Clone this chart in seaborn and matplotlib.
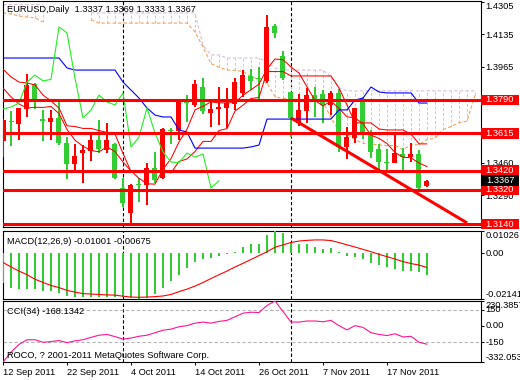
import numpy as np
import matplotlib
matplotlib.use("Agg")
import matplotlib.pyplot as plt
from matplotlib.patches import Rectangle
from matplotlib.transforms import blended_transform_factory
import seaborn as sns

nan = np.nan

# daily candles, 12 Sep 2011 .. 24 Nov 2011
opens = [1.3575, 1.3680, 1.3664, 1.3743, 1.3874, 1.3690, 1.3675, 1.3696, 1.3565, 1.3455,
         1.3512, 1.3523, 1.3580, 1.3528, 1.3559, 1.3329, 1.3198, 1.3350, 1.3345, 1.3434,
         1.3381, 1.3630, 1.3628, 1.3777, 1.3764, 1.3858, 1.3722, 1.3743, 1.3748, 1.3769,
         1.3827, 1.3916, 1.3902, 1.3890, 1.4178, 1.4021, 1.3832, 1.3669, 1.3732, 1.3816,
         1.3821, 1.3764, 1.3827, 1.3544, 1.3591, 1.3795, 1.3617, 1.3533, 1.3467, 1.3460,
         1.3507, 1.3491, 1.3507, 1.3337]
highs = [1.3690, 1.3732, 1.3750, 1.3926, 1.3879, 1.3738, 1.3738, 1.3790, 1.3596, 1.3559,
         1.3554, 1.3612, 1.3685, 1.3669, 1.3565, 1.3381, 1.3350, 1.3381, 1.3460, 1.3518,
         1.3643, 1.3643, 1.3790, 1.3816, 1.3895, 1.3905, 1.3790, 1.3858, 1.3853, 1.3905,
         1.3947, 1.3952, 1.3963, 1.4235, 1.4188, 1.4047, 1.3832, 1.3821, 1.3853, 1.3858,
         1.3842, 1.3837, 1.3848, 1.3649, 1.3750, 1.3806, 1.3633, 1.3559, 1.3533, 1.3607,
         1.3538, 1.3565, 1.3528, 1.3369]
lows = [1.3491, 1.3549, 1.3580, 1.3701, 1.3743, 1.3575, 1.3580, 1.3554, 1.3376, 1.3423,
        1.3355, 1.3470, 1.3512, 1.3512, 1.3376, 1.3229, 1.3146, 1.3256, 1.3240, 1.3355,
        1.3375, 1.3559, 1.3580, 1.3675, 1.3753, 1.3717, 1.3649, 1.3659, 1.3643, 1.3738,
        1.3806, 1.3842, 1.3790, 1.3879, 1.4115, 1.3895, 1.3596, 1.3654, 1.3669, 1.3701,
        1.3669, 1.3711, 1.3518, 1.3481, 1.3565, 1.3586, 1.3486, 1.3418, 1.3423, 1.3460,
        1.3423, 1.3465, 1.3313, 1.3333]
closes = [1.3685, 1.3675, 1.3748, 1.3869, 1.3785, 1.3680, 1.3696, 1.3565, 1.3455, 1.3497,
          1.3528, 1.3580, 1.3533, 1.3580, 1.3381, 1.3251, 1.3345, 1.3345, 1.3434, 1.3371,
          1.3638, 1.3625, 1.3780, 1.3772, 1.3874, 1.3732, 1.3743, 1.3753, 1.3774, 1.3884,
          1.3921, 1.3890, 1.3898, 1.4173, 1.4141, 1.3905, 1.3696, 1.3738, 1.3816, 1.3780,
          1.3764, 1.3827, 1.3544, 1.3596, 1.3748, 1.3617, 1.3518, 1.3465, 1.3462, 1.3512,
          1.3491, 1.3507, 1.3329, 1.3367]

# ichimoku lines and the red 5-bar average
tenkan = [1.3952, 1.3911, 1.3884, 1.3879, 1.3869, 1.3816, 1.3785, 1.3748, 1.3655, 1.3651,
          1.3641, 1.3641, 1.3630, 1.3620, 1.3612, 1.3510, 1.3415, 1.3415, 1.3415, 1.3415,
          1.3415, 1.3408, 1.3468, 1.3481, 1.3520, 1.3573, 1.3573, 1.3630, 1.3640, 1.3732,
          1.3763, 1.3798, 1.3803, 1.3939, 1.3939, 1.3939, 1.3916, 1.3916, 1.3916, 1.3916,
          1.3916, 1.3916, 1.3853, 1.3764, 1.3670, 1.3670, 1.3670, 1.3638, 1.3633, 1.3633,
          1.3633, 1.3612, 1.3560, 1.3560]
kijun = [1.4010, 1.4010, 1.4010, 1.4010, 1.4010, 1.4010, 1.4010, 1.4010, 1.3958, 1.3947,
         1.3947, 1.3947, 1.3947, 1.3947, 1.3947, 1.3884, 1.3842, 1.3800, 1.3748, 1.3711,
         1.3701, 1.3701, 1.3633, 1.3622, 1.3538, 1.3538, 1.3538, 1.3538, 1.3538, 1.3538,
         1.3538, 1.3544, 1.3554, 1.3690, 1.3690, 1.3690, 1.3690, 1.3690, 1.3690, 1.3690,
         1.3690, 1.3690, 1.3738, 1.3738, 1.3790, 1.3800, 1.3858, 1.3832, 1.3827, 1.3827,
         1.3827, 1.3827, 1.3774, 1.3774]
ma5 = [1.3853, 1.3806, 1.3769, 1.3748, 1.3752, 1.3751, 1.3756, 1.3719, 1.3636, 1.3579,
       1.3548, 1.3525, 1.3519, 1.3544, 1.3520, 1.3465, 1.3418, 1.3380, 1.3351, 1.3349,
       1.3427, 1.3483, 1.3570, 1.3637, 1.3738, 1.3757, 1.3780, 1.3775, 1.3775, 1.3777,
       1.3815, 1.3844, 1.3873, 1.3953, 1.4005, 1.4001, 1.3963, 1.3931, 1.3859, 1.3787,
       1.3759, 1.3785, 1.3746, 1.3702, 1.3696, 1.3666, 1.3605, 1.3589, 1.3562, 1.3515,
       1.3490, 1.3487, 1.3460, 1.3441]
# cloud, runs 6 bars past the last candle
span_a = [1.4246, 1.4241, 1.4230, 1.4225, 1.4220, 1.4199, nan, nan, nan, nan,
          nan, 1.4210, 1.4193, 1.4193, 1.4193, 1.4193, 1.4193, 1.4193, 1.4193, 1.4193,
          1.4193, 1.4193, 1.4193, 1.4193, 1.4146, 1.4068, 1.3981, 1.3961, 1.3947, 1.3945,
          1.3940, 1.3913, 1.3898, 1.3879, 1.3807, 1.3799, 1.3794, 1.3794, 1.3789, 1.3784,
          1.3780, 1.3697, 1.3629, 1.3609, 1.3582, 1.3563, 1.3558, 1.3555, 1.3551, 1.3552,
          1.3529, 1.3556, 1.3556, 1.3584, 1.3589, 1.3635, 1.3651, 1.3671, 1.3679, 1.3815]
span_b = [1.4290, 1.4290, 1.4290, 1.4290, 1.4290, 1.4290, nan, nan, nan, nan,
          nan, 1.4246, 1.4246, 1.4246, 1.4246, 1.4246, 1.4246, 1.4246, 1.4246, 1.4246,
          1.4246, 1.4246, 1.4246, 1.4246, 1.4246, 1.4078, 1.4026, 1.4026, 1.4010, 1.4010,
          1.4010, 1.4010, 1.4010, 1.3989, 1.3958, 1.3947, 1.3947, 1.3947, 1.3947, 1.3947,
          1.3947, 1.3911, 1.3853, 1.3838, 1.3838, 1.3838, 1.3838, 1.3838, 1.3838, 1.3838,
          1.3838, 1.3838, 1.3838, 1.3838, 1.3838, 1.3838, 1.3838, 1.3838, 1.3838, 1.3838]

levels = [1.3790, 1.3615, 1.3420, 1.3320, 1.3140]
trend_x = [36, 58]
trend_y = [1.3696, 1.3146]
separators = [15, 36]
price_ticks = [1.4305, 1.4135, 1.3965, 1.3795, 1.3625, 1.3460, 1.3290]

macd = [-0.0140, -0.0163, -0.0166, -0.0166, -0.0166, -0.0175, -0.0175, -0.0184, -0.0198, -0.0206,
        -0.0205, -0.0206, -0.0205, -0.0205, -0.0205, -0.0206, -0.0210, -0.02141, -0.0210, -0.0193,
        -0.0163, -0.0131, -0.0101, -0.0070, -0.0044, -0.0030, -0.0023, -0.0012, -0.0005, 0.0004,
        0.0030, 0.0040, 0.0044, 0.0085, 0.01026, 0.0095, 0.0052, 0.0044, 0.0040, 0.0026,
        0.0021, 0.0023, 0.0004, -0.0012, -0.0017, -0.0026, -0.0047, -0.0056, -0.0067, -0.0075,
        -0.0082, -0.0082, -0.0087, -0.01001]
signal = [-0.0044, -0.0065, -0.0084, -0.0101, -0.0122, -0.0137, -0.0151, -0.0161, -0.0174, -0.0182,
          -0.0189, -0.0191, -0.0193, -0.0195, -0.0196, -0.0201, -0.0205, -0.0206, -0.0205, -0.0203,
          -0.0200, -0.0193, -0.0180, -0.0168, -0.0154, -0.0137, -0.0119, -0.0101, -0.0084, -0.0065,
          -0.0048, -0.0030, -0.0012, 0.0006, 0.0027, 0.0038, 0.0049, 0.0056, 0.0059, 0.0061,
          0.0061, 0.0058, 0.0049, 0.0038, 0.0028, 0.0017, 0.0006, -0.0006, -0.0017, -0.0028,
          -0.0040, -0.0049, -0.0056, -0.00675]
cci = [-332.053, -242, -170, -127, -127, -150, -144, -134, -154, -137,
       -127, -105, -85, -78, -98, -121, -111, -95, -85, -62,
       -39, -29, -7, 3, 26, 36, 26, 42, 52, 85,
       118, 127, 124, 189, 230.3857, 134, 36, 36, 46, 46,
       39, 52, 3, -36, 3, -13, -62, -78, -88, -72,
       -101, -95, -150, -168.1342]

date_ticks = [0, 8, 16, 24, 32, 40, 48]
date_labels = ["12 Sep 2011", "22 Sep 2011", "4 Oct 2011", "14 Oct 2011",
               "26 Oct 2011", "7 Nov 2011", "17 Nov 2011"]

bars = np.arange(len(opens))
cloud_bars = np.arange(len(span_a))

sns.set_theme(style="white")
plt.rcParams["font.family"] = ["Liberation Sans", "DejaVu Sans"]
FS = 6.7
RED = "#FF0000"
GREEN = "#32CD32"

W, H = 520, 380
fig = plt.figure(figsize=(W / 100, H / 100), dpi=100)
fig.patch.set_facecolor("white")


def px_box(x0, y0, x1, y1):
    return [x0 / W, 1 - y1 / H, (x1 - x0) / W, (y1 - y0) / H]


ax = fig.add_axes(px_box(3, 1, 481, 227))
ax_macd = fig.add_axes(px_box(3, 231, 481, 299))
ax_cci = fig.add_axes(px_box(3, 301, 481, 362))

XMAX = 59.75
PX = XMAX / 478  # one pixel in bar units
for a in (ax, ax_macd, ax_cci):
    a.set_xlim(0, XMAX)
    a.set_facecolor("white")
    for s in a.spines.values():
        s.set_color("black")
        s.set_linewidth(0.8)
    a.yaxis.tick_right()
    a.tick_params(axis="y", right=True, left=False, direction="out", length=2.2,
                  width=0.7, pad=0.8, labelsize=FS, colors="black")
    a.tick_params(axis="x", bottom=False, labelbottom=False)
    a.grid(False)
    for sep in separators:
        a.axvline(sep, color="black", lw=0.8, ls=(0, (3, 2)), zorder=1)

# ---- main price panel ----
ymin, ymax = 1.312452, 1.430876
ax.set_ylim(ymin, ymax)
price_per_px = (ymax - ymin) / 226

# cloud hatching and spans
sa = np.array(span_a)
sb = np.array(span_b)
ok = ~np.isnan(sa)
hatch_cols = np.where(sb[ok] >= sa[ok], "#D8BFD8", "#F4A460")
ax.vlines(cloud_bars[ok], np.minimum(sa, sb)[ok], np.maximum(sa, sb)[ok],
          colors=hatch_cols, lw=0.7, linestyles=(0, (3, 2)), zorder=1)
ax.plot(cloud_bars, span_a, color="#F4A460", lw=0.8, ls=(0, (3, 2)), zorder=2)
ax.plot(cloud_bars, span_b, color="#D8BFD8", lw=0.8, ls=(0, (3, 2)), zorder=2)

# candles (red = up, green = down)
o = np.array(opens)
c = np.array(closes)
cols = np.where(c >= o, RED, GREEN)
ax.bar(bars, np.array(highs) - np.array(lows), bottom=lows, width=1.1 * PX, color=cols,
       lw=0, zorder=5, antialiased=False)
body_lo = np.minimum(o, c)
body_h = np.maximum(np.abs(c - o), price_per_px)
ax.bar(bars, body_h, bottom=body_lo, width=0.625, color=cols, lw=0, zorder=6,
       antialiased=False)

# indicator lines
sns.lineplot(x=bars, y=tenkan, ax=ax, color=RED, lw=0.75, zorder=7)
sns.lineplot(x=bars, y=ma5, ax=ax, color=RED, lw=0.75, zorder=7)
sns.lineplot(x=bars, y=kijun, ax=ax, color="#0000FF", lw=0.8, zorder=7)
sns.lineplot(x=bars[:len(closes) - 26], y=closes[26:], ax=ax, color="#22EE22", lw=0.8, zorder=7)

for lv in levels:
    ax.axhline(lv, color=RED, lw=2.2, zorder=8)
ax.plot(trend_x, trend_y, color=RED, lw=2.2, zorder=8, solid_capstyle="butt")

ax.set_yticks(price_ticks, [f"{p:.4f}" for p in price_ticks])
ax.get_yticklabels()[0].set_va("top")
ax.set_ylabel("")
ax.set_xlabel("")

# price boxes on the right scale
trans = blended_transform_factory(ax.transAxes, ax.transData)
box_w = 38 / 478
box_h = 10.5 * price_per_px
for lv, fc in [(v, RED) for v in levels] + [(closes[-1], "black")]:
    ax.add_patch(Rectangle((1.0, lv - box_h / 2), box_w, box_h, transform=trans,
                           facecolor=fc, edgecolor="none", clip_on=False, zorder=10))
    ax.text(1.0 + box_w / 2, lv, f"{lv:.4f}", transform=trans, ha="center", va="center",
            color="white", fontsize=FS, clip_on=False, zorder=11)

# ---- MACD ----
ax_macd.set_ylim(-0.02141, 0.01026)
ax_macd.bar(bars, macd, width=1.1 * PX, color=GREEN, lw=0, zorder=3, antialiased=False)
sns.lineplot(x=bars, y=signal, ax=ax_macd, color=RED, lw=0.8, zorder=4)
ax_macd.set_yticks([0.01026, 0.0, -0.02141], ["0.01026", "0.00", "-0.02141"])
for lbl, va in zip(ax_macd.get_yticklabels(), ["top", "center", "bottom"]):
    lbl.set_va(va)
ax_macd.set_ylabel("")

# ---- CCI ----
ax_cci.set_ylim(-332.053, 230.3857)
for lv in (150, -150):
    ax_cci.axhline(lv, color="#B4B4B4", lw=0.8, ls=(0, (3, 2)), zorder=1)
sns.lineplot(x=bars, y=cci, ax=ax_cci, color="#FF1493", lw=0.8, zorder=4)
ax_cci.set_yticks([230.3857, 150, 0, -150, -332.053],
                  ["230.3857", "150", "0.00", "-150", "-332.053"])
for lbl, va in zip(ax_cci.get_yticklabels(), ["top", "center", "center", "center", "bottom"]):
    lbl.set_va(va)
ax_cci.set_ylabel("")

ax_cci.set_xticks(date_ticks, date_labels)
ax_cci.tick_params(axis="x", bottom=True, labelbottom=True, direction="out", length=2.5,
                   width=0.7, pad=1.5, labelsize=FS, colors="black")
for lbl in ax_cci.get_xticklabels():
    lbl.set_ha("left")
ax_cci.set_xlabel("")

# ---- panel captions ----
fig.text(7 / W, 1 - 10 / H,
         f"EURUSD,Daily  {opens[-1]:.4f} {highs[-1]:.4f} {lows[-1]:.4f} {closes[-1]:.4f}",
         fontsize=FS, color="black", va="center")
fig.text(7 / W, 1 - 242 / H, f"MACD(12,26,9) {macd[-1]:.5f} {signal[-1]:.5f}",
         fontsize=FS, color="black", va="center")
fig.text(7 / W, 1 - 311 / H, f"CCI(34) {cci[-1]:.4f}", fontsize=FS, color="black", va="center")
fig.text(7 / W, 1 - 355 / H, "ROCO, ? 2001-2011 MetaQuotes Software Corp.",
         fontsize=FS, color="black", va="center")

fig.savefig("out.png", dpi=100, facecolor="white")
